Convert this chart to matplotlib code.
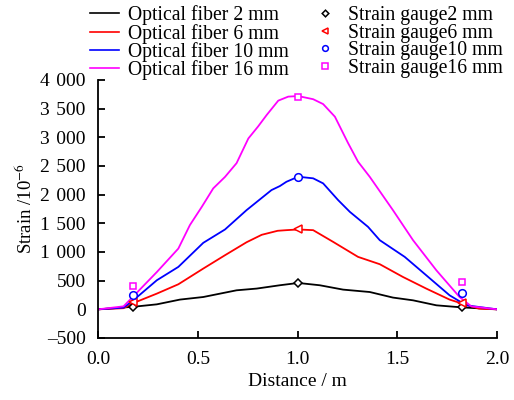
import matplotlib.pyplot as plt
from matplotlib.ticker import FuncFormatter, MultipleLocator

plt.rcParams['font.family'] = ['Liberation Serif', 'DejaVu Serif']
plt.rcParams['mathtext.fontset'] = 'stix'

# optical fiber readings (distance in m, strain in 1e-6)
x_2mm = [0.0, 0.177, 0.294, 0.41, 0.527, 0.694, 0.795, 0.911, 1.003, 1.111,
         1.228, 1.362, 1.478, 1.579, 1.696, 1.82, 2.0]
y_2mm = [0, 45, 87, 170, 215, 332, 362, 420, 460, 420,
         344, 302, 205, 157, 70, 35, 0]

x_6mm = [0.0, 0.127, 0.177, 0.294, 0.402, 0.527, 0.636, 0.744, 0.82, 0.9, 0.944,
         1.003, 1.078, 1.178, 1.303, 1.412, 1.528, 1.645, 1.762, 1.83, 1.91, 2.0]
y_6mm = [0, 20, 110, 274, 437, 711, 944, 1170, 1300, 1370, 1381,
         1393, 1381, 1177, 915, 787, 565, 362, 170, 95, 12, 0]

x_10mm = [0.0, 0.127, 0.177, 0.294, 0.402, 0.527, 0.636, 0.744, 0.869, 0.911, 0.944,
          1.003, 1.078, 1.128, 1.203, 1.262, 1.353, 1.412, 1.537, 1.645, 1.762, 1.846, 2.0]
y_10mm = [0, 30, 160, 507, 740, 1160, 1393, 1730, 2080, 2150, 2225,
          2313, 2285, 2197, 1906, 1700, 1439, 1206, 915, 594, 245, 70, 0]

x_16mm = [0.0, 0.127, 0.177, 0.294, 0.402, 0.46, 0.52, 0.577, 0.636, 0.694, 0.753,
          0.802, 0.845, 0.903, 0.953, 1.003, 1.078, 1.128, 1.187, 1.253, 1.303, 1.362,
          1.478, 1.579, 1.696, 1.812, 1.871, 2.0]
y_16mm = [0, 52, 230, 650, 1060, 1470, 1790, 2110, 2310, 2550, 2980,
          3190, 3390, 3640, 3710, 3720, 3665, 3580, 3360, 2900, 2575, 2310,
          1730, 1205, 680, 215, 52, 0]

# strain gauge readings
gauge_x = [0.175, 1.003, 1.825]
gauge_2mm = [40, 460, 40]
gauge_6mm = [120, 1393, 105]
gauge_10mm = [250, 2313, 290]
gauge_16mm = [400, 3700, 480]

fig = plt.figure(figsize=(5.14, 4.0), dpi=100)
ax = fig.add_axes([0.191, 0.155, 0.776, 0.645])

lw = 1.3
l1, = ax.plot(x_2mm, y_2mm, color='black', lw=lw)
l2, = ax.plot(x_6mm, y_6mm, color='red', lw=lw)
l3, = ax.plot(x_10mm, y_10mm, color='blue', lw=lw)
l4, = ax.plot(x_16mm, y_16mm, color='magenta', lw=lw)

mk = dict(ls='none', mfc='white', mew=1.1, ms=5.5)
g1, = ax.plot(gauge_x, gauge_2mm, marker='D', color='black', **dict(mk, ms=4.5))
g2, = ax.plot(gauge_x, gauge_6mm, marker='<', color='red', **mk)
g3, = ax.plot(gauge_x, gauge_10mm, marker='o', color='blue', **mk)
g4, = ax.plot(gauge_x, gauge_16mm, marker='s', color='magenta', **dict(mk, ms=5))

ax.set_xlim(0, 2.0)
ax.set_ylim(-500, 4000)
ax.xaxis.set_major_locator(MultipleLocator(0.5))
ax.yaxis.set_major_locator(MultipleLocator(500))


def fmt_y(v, pos):
    s = '{:,.0f}'.format(abs(v)).replace(',', '\u2004')
    return ('\u2013' + s) if v < 0 else s


ax.yaxis.set_major_formatter(FuncFormatter(fmt_y))
ax.xaxis.set_major_formatter(FuncFormatter(lambda v, p: '{:.1f}'.format(v)))

for s in ['top', 'right']:
    ax.spines[s].set_visible(False)
for s in ['left', 'bottom']:
    ax.spines[s].set_linewidth(1.3)
ax.tick_params(direction='in', length=5, width=1.3, labelsize=14)
ax.tick_params(axis='x', pad=9)
ax.tick_params(axis='y', pad=9)

ax.set_xlabel('Distance / m', fontsize=14, labelpad=4)
ax.set_ylabel('Strain /10$^{-6}$', fontsize=13.5, labelpad=3)

leg = fig.legend([l1, l2, l3, l4, g1, g2, g3, g4],
                 ['Optical fiber 2 mm', 'Optical fiber 6 mm', 'Optical fiber 10 mm', 'Optical fiber 16 mm',
                  'Strain gauge2 mm', 'Strain gauge6 mm', 'Strain gauge10 mm', 'Strain gauge16 mm'],
                 ncol=2, loc='upper left', bbox_to_anchor=(0.153, 1.016), frameon=False,
                 fontsize=14.2, handlelength=1.45, handletextpad=0.45, columnspacing=1.1,
                 labelspacing=-0.08, borderaxespad=0.2, markerscale=0.75)
for h in leg.legend_handles[:4]:
    h.set_linewidth(1.2)

fig.savefig('out.png', dpi=100)
